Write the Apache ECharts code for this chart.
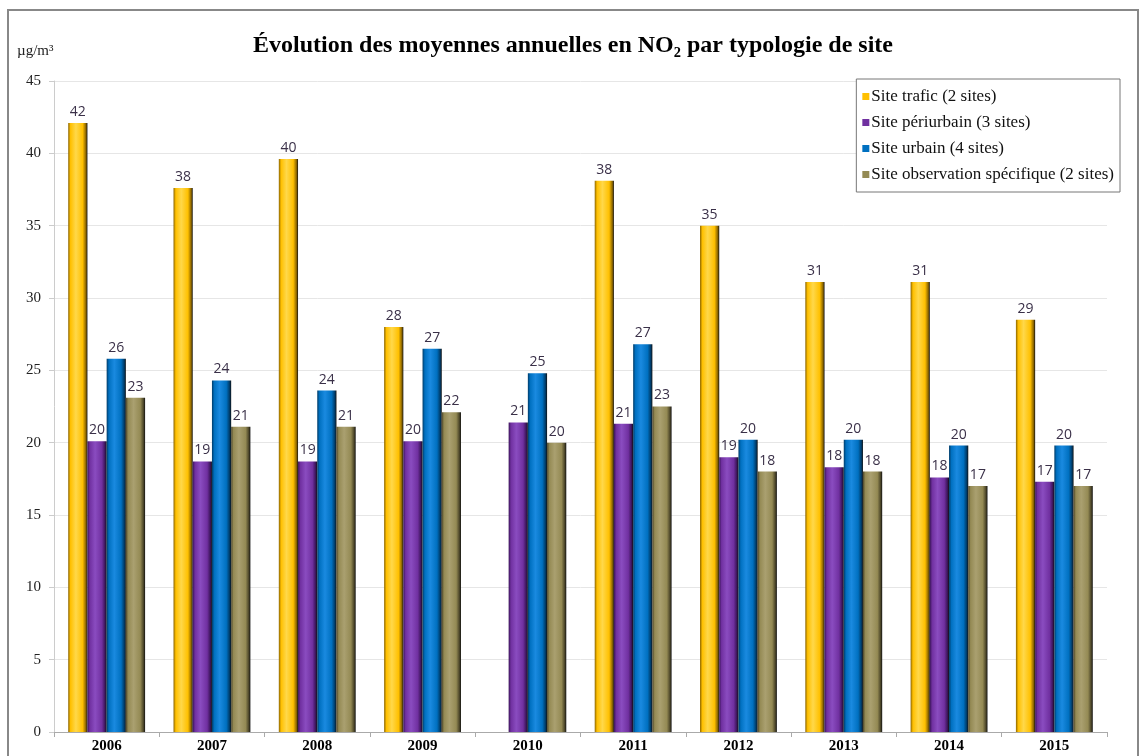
<!DOCTYPE html>
<html><head><meta charset="utf-8">
<script src="https://cdn.jsdelivr.net/npm/echarts@6/dist/echarts.min.js"></script>
<style>html,body{margin:0;padding:0;background:#fff}#c{width:1146px;height:756px}</style>
</head><body><div id="c"></div>
<script>
const years = ['2006','2007','2008','2009','2010','2011','2012','2013','2014','2015'];
const seriesNames = ['Site trafic (2 sites)','Site périurbain (3 sites)','Site urbain (4 sites)','Site observation spécifique (2 sites)'];
const trafic = [42.1, 37.6, 39.6, 28.0, null, 38.1, 35.0, 31.1, 31.1, 28.5];
const periurbain = [20.1, 18.7, 18.7, 20.1, 21.4, 21.3, 19.0, 18.3, 17.6, 17.3];
const urbain = [25.8, 24.3, 23.6, 26.5, 24.8, 26.8, 20.2, 20.2, 19.8, 19.8];
const observation = [23.1, 21.1, 21.1, 22.1, 20.0, 22.5, 18.0, 18.0, 17.0, 17.0];
const yTicks = [0, 5, 10, 15, 20, 25, 30, 35, 40, 45];

const baseColors = ['#FFC000', '#7030A0', '#0070C0', '#948A54'];
const darkColors = ['#8a6400', '#3a1458', '#003a66', '#4a4428'];
const lightColors = ['#FFD84a', '#8a4cc0', '#1a8ae0', '#aaa070'];
const allData = [trafic, periurbain, urbain, observation];

const chart = echarts.init(document.getElementById('c'));
const serif = "'Liberation Serif', 'Times New Roman', serif";
const option = {
  backgroundColor: '#fff',
  animation: false,
  title: {
    text: 'Évolution des moyennes annuelles en NO₂ par typologie de site',
    left: 'center', top: 29,
    textStyle: { fontFamily: serif, fontSize: 24, fontWeight: 'bold', color: '#000' }
  },
  legend: {
    orient: 'vertical', right: 26, top: 79,
    itemWidth: 7, itemHeight: 7, itemGap: 9,
    backgroundColor: '#fff', borderColor: '#777', borderWidth: 1,
    padding: [9, 6, 9, 6],
    textStyle: { fontFamily: serif, fontSize: 17, color: '#111', padding: [0, 0, 0, -3] },
    data: seriesNames.map((n, i) => ({ name: n, icon: 'rect', itemStyle: { color: baseColors[i] } }))
  },
  grid: { left: 54, right: 39, top: 81, bottom: 24 },
  xAxis: {
    type: 'category', data: years,
    axisLine: { lineStyle: { color: '#aaa' } },
    axisTick: { show: true, lineStyle: { color: '#aaa' } },
    axisLabel: { fontFamily: serif, fontSize: 15, fontWeight: 'bold', color: '#000', margin: 7 }
  },
  yAxis: {
    type: 'value', min: 0, max: 45, interval: 5,
    axisLine: { show: true, lineStyle: { color: '#ccc' } },
    axisTick: { show: true, lineStyle: { color: '#ccc' } },
    axisLabel: { fontFamily: serif, fontSize: 15, color: '#222', margin: 13,
      customValues: yTicks },
    splitLine: { lineStyle: { color: '#e6e6e6' } }
  },
  graphic: [
    { type: 'rect', shape: { x: 8, y: 10, width: 1130, height: 780 },
      style: { fill: 'none', stroke: '#888', lineWidth: 2 }, silent: true },
    { type: 'text', left: 17, top: 44,
      style: { text: 'µg/m³', fontFamily: serif, fontSize: 15, fill: '#222' } }
  ],
  series: allData.map((d, i) => ({
    name: seriesNames[i], type: 'bar', data: d,
    barGap: '0%', barCategoryGap: '27%',
    itemStyle: {
      color: new echarts.graphic.LinearGradient(0, 0, 1, 0, [
        { offset: 0, color: darkColors[i] },
        { offset: 0.12, color: baseColors[i] },
        { offset: 0.4, color: lightColors[i] },
        { offset: 0.75, color: baseColors[i] },
        { offset: 0.92, color: darkColors[i] },
        { offset: 1, color: '#111' }
      ])
    },
    label: {
      show: true, position: 'top', distance: 4,
      fontFamily: "'Open Sans', 'DejaVu Sans', sans-serif", fontSize: 14, color: '#3a3048',
      formatter: p => p.value == null ? '' : String(Math.round(p.value))
    }
  }))
};
chart.setOption(option);
</script></body></html>
